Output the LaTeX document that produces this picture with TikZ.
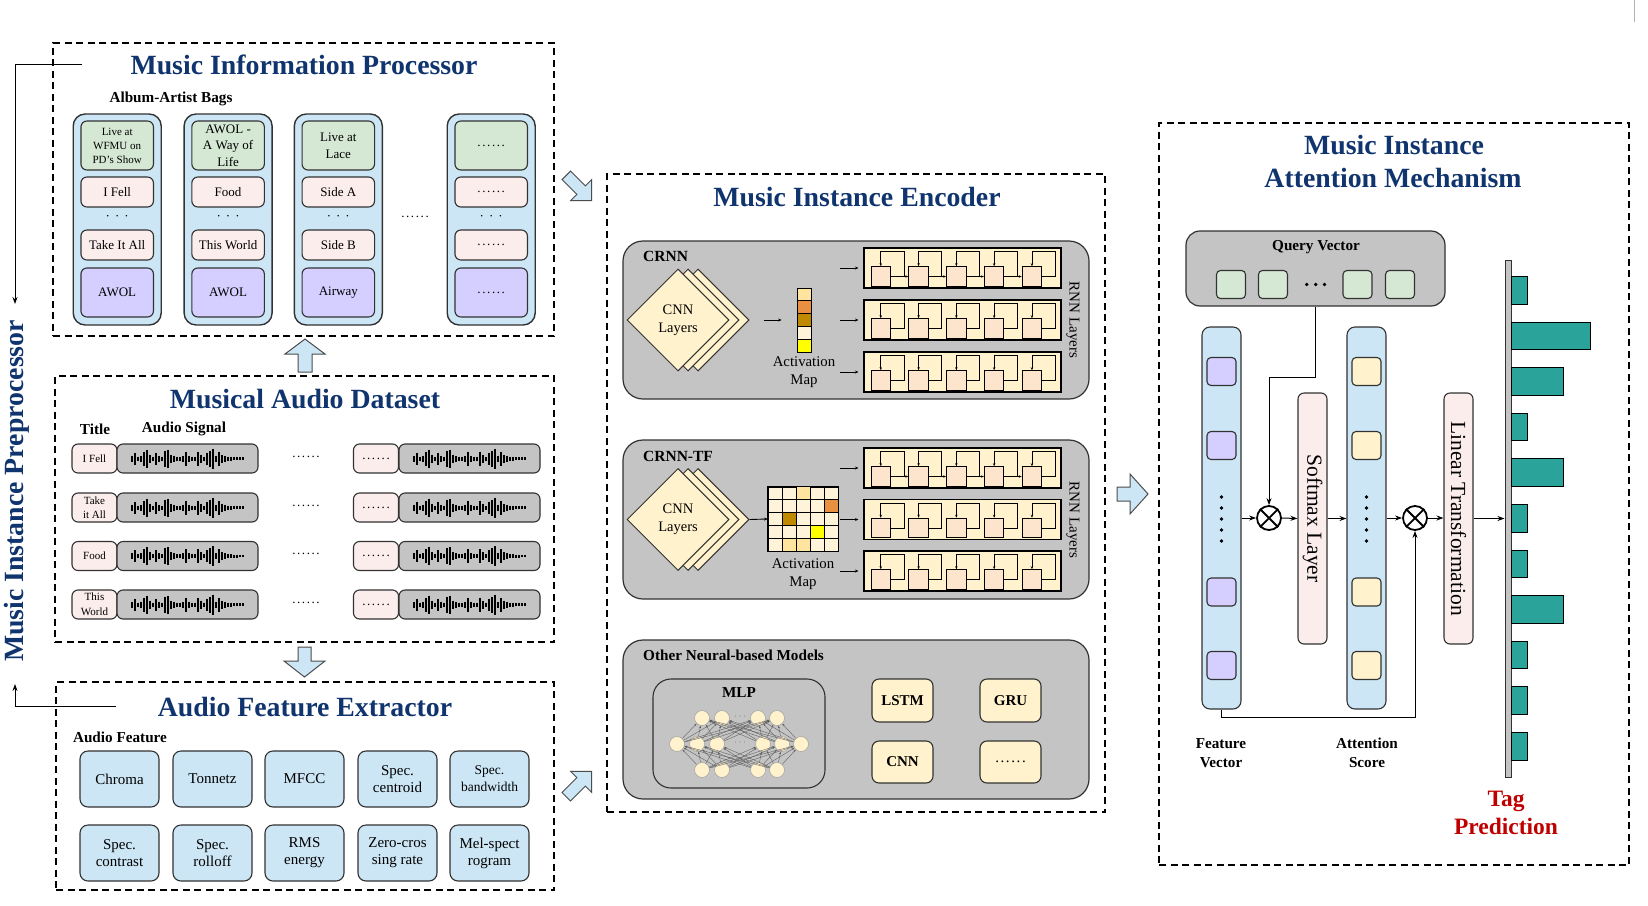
\documentclass[tikz,border=0pt]{standalone}
\usepackage{fontspec}
\setmainfont{Liberation Serif}
\usetikzlibrary{shapes.geometric,arrows.meta,calc}
\definecolor{titleblue}{RGB}{16,52,110}
\definecolor{bdr}{RGB}{50,50,50}
\definecolor{bagblue}{RGB}{204,230,245}
\definecolor{mgreen}{RGB}{213,232,212}
\definecolor{mpink}{RGB}{252,237,237}
\definecolor{mpurple}{RGB}{212,207,255}
\definecolor{mgray}{RGB}{196,196,196}
\definecolor{myellow}{RGB}{255,242,204}
\definecolor{mpeach}{RGB}{253,228,205}
\definecolor{mteal}{RGB}{42,163,155}
\definecolor{tagred}{RGB}{192,0,0}
\definecolor{amA}{RGB}{255,228,160}
\definecolor{amB}{RGB}{232,144,64}
\definecolor{amC}{RGB}{192,138,0}
\definecolor{amD}{RGB}{255,243,217}
\definecolor{amE}{RGB}{255,255,0}
\newcommand\mywave[2]{%
  \foreach \h [count=\i] in {3,6,2,3,7,9,4,2,6,3,2,8,9,4,3,2,2,3,7,3,2,2,7,4,2,6,8,10,3,7,4,3,2,2,1.5,1.5,1.2,1.2}{%
    \draw[line width=1.1pt] ({#1+\i*3},{#2-\h}) -- ({#1+\i*3},{#2+\h});}%
}
\newcommand\mydots{.\kern1.6pt.\kern1.6pt.\kern1.6pt.\kern1.6pt.\kern1.6pt.}
\tikzset{
 dbox/.style={draw=black, line width=1.5pt, dash pattern=on 7pt off 4.5pt, inner sep=0pt},
 ttl/.style={text=titleblue, font=\fontsize{27.8}{32}\selectfont\bfseries, inner sep=0pt, align=center},
 lbl/.style={font=\fontsize{15.2}{19}\selectfont\bfseries, inner sep=0pt, align=center},
 bag/.style={draw=bdr, fill=bagblue, rounded corners=12pt, line width=1.4pt, minimum width=88pt, minimum height=211pt, inner sep=0pt},
 bitem/.style={draw=bdr, rounded corners=6pt, line width=1.1pt, minimum width=72.5pt, align=center, inner sep=0pt, font=\fontsize{13}{16}\selectfont},
 dotsl/.style={inner sep=0pt, font=\fontsize{13}{16}\selectfont},
 tbox/.style={draw=bdr, fill=mpink, rounded corners=6pt, line width=1.1pt, minimum width=45pt, minimum height=29pt, inner sep=0pt, align=center, font=\fontsize{11}{14.5}\selectfont},
 sbox/.style={draw=bdr, fill=mgray, rounded corners=6pt, line width=1.1pt, minimum width=141pt, minimum height=29pt, inner sep=0pt},
 fbox/.style={draw=bdr, fill=bagblue, rounded corners=8pt, line width=1.1pt, minimum width=79pt, minimum height=56pt, inner sep=0pt, align=center, font=\fontsize{15}{17}\selectfont},
 blk/.style={draw=bdr, fill=mgray, rounded corners=20pt, line width=1.2pt, minimum width=466pt, inner sep=0pt},
 diam/.style={diamond, aspect=1, draw=bdr, fill=myellow, line width=1pt, minimum width=102pt, minimum height=102pt, inner sep=0pt, align=center, font=\fontsize{14.5}{18}\selectfont},
 amcell/.style={draw=black, line width=0.8pt, minimum width=14pt, minimum height=12.8pt, inner sep=0pt},
 rnnrow/.style={draw=black, fill=myellow, line width=1.1pt, minimum width=197pt, minimum height=40pt, inner sep=0pt},
 rcell/.style={draw=black, fill=mpeach, line width=1pt, minimum size=19.5pt, inner sep=0pt},
 lp/.style={line width=0.9pt, -{Stealth[length=3pt,width=2.4pt]}},
 sarr/.style={line width=0.9pt, -{Stealth[length=3.5pt,width=3pt]}},
 arr/.style={line width=1pt, -{Stealth[length=7pt,width=5pt]}},
 neuron/.style={circle, fill=myellow, draw=gray!70, line width=0.6pt, minimum size=15pt, inner sep=0pt},
 nnarr/.style={draw=gray!70!black, line width=0.35pt, -{Stealth[length=2.6pt,width=1.8pt]}},
 mbox/.style={draw=bdr, fill=myellow, rounded corners=7pt, line width=1.1pt, minimum width=61pt, minimum height=43pt, inner sep=0pt, font=\fontsize{15}{17}\selectfont\bfseries},
 vcol/.style={draw=bdr, fill=bagblue, rounded corners=8pt, line width=1.1pt, minimum width=39pt, minimum height=382pt, inner sep=0pt},
 vsq/.style={draw=bdr, rounded corners=4pt, line width=1.1pt, minimum width=29pt, minimum height=28pt, inner sep=0pt},
 slayer/.style={draw=bdr, fill=mpink, rounded corners=6pt, line width=1.1pt, minimum width=29pt, minimum height=251pt, inner sep=0pt},
 vtext/.style={rotate=-90, font=\fontsize{21.5}{24}\selectfont, inner sep=0pt},
 otimes/.style={circle, draw=black, line width=1.8pt, minimum size=24pt, inner sep=0pt},
 barrow/.style={fill=bagblue, draw=gray!60!black, line width=1pt},
 tbar/.style={draw=black, fill=mteal, line width=0.8pt},
}
\begin{document}
\begin{tikzpicture}[x=1pt,y=-1pt]
\useasboundingbox[fill=white] (0,0) rectangle (1648,905);
\draw[gray!60, line width=1pt] (1634,0) -- (1634,22);

% ---------------- dashed section boxes
\node[dbox, minimum width=501pt, minimum height=293pt] (mip) at (303.5,189.5) {};
\node[dbox, minimum width=499pt, minimum height=266pt] (mad) at (304.5,509) {};
\node[dbox, minimum width=498pt, minimum height=208pt] (afe) at (305,786) {};
\node[dbox, minimum width=498pt, minimum height=638pt] (enc) at (856,493) {};
\node[dbox, minimum width=470pt, minimum height=742pt] (att) at (1394,494) {};

% ---------------- preprocessor
\node[ttl, rotate=90] (pre) at (17,491) {Music Instance Preprocessor};
\coordinate (ppt1) at (82,64);
\coordinate (ppt2) at (15,304);
\draw[arr] (ppt1) -| (ppt2);
\coordinate (ppb1) at (116,706);
\coordinate (ppb2) at (15,684);
\draw[arr] (ppb1) -| (ppb2);

% ---------------- Music Information Processor
\node[ttl, anchor=base] (mipt) at (304,74) {Music Information Processor};
\node[lbl] (aab) at (171,99) {Album-Artist Bags};
\foreach \n/\x in {1/117.2,2/228.1,3/338.3,4/491.2}{
  \node[bag] (bag\n) at (\x,219.5) {};
  \node[dotsl] (bd\n) at (\x,218) {·\hspace{5pt}·\hspace{5pt}·};
}
\node[bitem, fill=mgreen, minimum height=49pt, font=\fontsize{11}{14}\selectfont] (g1) at (117.2,145.5) {Live at\\WFMU on\\PD's Show};
\node[bitem, fill=mpink, minimum height=30pt] (pa1) at (117.2,192) {I Fell};
\node[bitem, fill=mpink, minimum height=30pt] (pb1) at (117.2,245) {Take It All};
\node[bitem, fill=mpurple, minimum height=49pt] (u1) at (117.2,292.5) {AWOL};
\node[bitem, fill=mgreen, minimum height=49pt, font=\fontsize{13}{16.5}\selectfont] (g2) at (228.1,145.5) {AWOL -\\A Way of\\Life};
\node[bitem, fill=mpink, minimum height=30pt] (pa2) at (228.1,192) {Food};
\node[bitem, fill=mpink, minimum height=30pt] (pb2) at (228.1,245) {This World};
\node[bitem, fill=mpurple, minimum height=49pt] (u2) at (228.1,292.5) {AWOL};
\node[bitem, fill=mgreen, minimum height=49pt, font=\fontsize{13}{17}\selectfont] (g3) at (338.3,145.5) {Live at\\Lace};
\node[bitem, fill=mpink, minimum height=30pt] (pa3) at (338.3,192) {Side A};
\node[bitem, fill=mpink, minimum height=30pt] (pb3) at (338.3,245) {Side B};
\node[bitem, fill=mpurple, minimum height=49pt] (u3) at (338.3,292.5) {Airway};
\node[bitem, fill=mgreen, minimum height=49pt] (g4) at (491.2,145.5) {\mydots};
\node[bitem, fill=mpink, minimum height=30pt] (pa4) at (491.2,192) {\mydots};
\node[bitem, fill=mpink, minimum height=30pt] (pb4) at (491.2,245) {\mydots};
\node[bitem, fill=mpurple, minimum height=49pt] (u4) at (491.2,292.5) {\mydots};
\node[dotsl] (bagdots) at (415,217) {\mydots};

% ---------------- block arrows
\draw[barrow] (298,372) -- (298,354) -- (285,354) -- (305,339) -- (325,354) -- (312,354) -- (312,372) -- cycle;
\draw[barrow] (298,647) -- (298,661) -- (284,661) -- (304.5,677) -- (325,661) -- (311,661) -- (311,647) -- cycle;
\draw[barrow] (562.03,179.51) -- (576.88,194.36) -- (570.51,200.73) -- (591.73,200.73) -- (591.73,179.51) -- (585.36,185.88) -- (570.51,171.03) -- cycle;
\draw[barrow] (570.51,800.97) -- (585.36,786.12) -- (591.73,792.49) -- (591.73,771.27) -- (570.51,771.27) -- (576.88,777.64) -- (562.03,792.49) -- cycle;
\draw[barrow] (1117,487) -- (1130,487) -- (1130,474) -- (1148,494) -- (1130,514) -- (1130,501) -- (1117,501) -- cycle;

% ---------------- Musical Audio Dataset
\node[ttl, anchor=base] (madt) at (305,408) {Musical Audio Dataset};
\node[lbl] (ttlab) at (95,429) {Title};
\node[lbl] (aslab) at (184,429) {Audio Signal};
\node[tbox] (t1) at (94.5,458.5) {I Fell};
\node[tbox] (t2) at (94.5,507.5) {Take\\it All};
\node[tbox] (t3) at (94.5,556) {Food};
\node[tbox] (t4) at (94.5,604.5) {This\\World};
\foreach \r/\y in {1/458.5,2/507.5,3/556,4/604.5}{
  \node[sbox] (s\r) at (187.5,\y) {};
  \mywave{129}{\y}
  \node[dotsl] (dd\r) at (306,\y-2) {\mydots};
  \node[tbox, font=\fontsize{13}{15}\selectfont] (tr\r) at (376,\y) {\mydots};
  \node[sbox] (sr\r) at (469.5,\y) {};
  \mywave{411}{\y}
}

% ---------------- Audio Feature Extractor
\node[ttl, anchor=base] (afet) at (305,716) {Audio Feature Extractor};
\node[lbl] (aflab) at (120,737) {Audio Feature};
\node[fbox] (f1) at (119.5,779) {Chroma};
\node[fbox] (f2) at (212.5,779) {Tonnetz};
\node[fbox] (f3) at (304.5,779) {MFCC};
\node[fbox] (f4) at (397.5,779) {Spec.\\centroid};
\node[fbox, font=\fontsize{13.5}{17}\selectfont] (f5) at (489.5,779) {Spec.\\bandwidth};
\node[fbox] (f6) at (119.5,853) {Spec.\\contrast};
\node[fbox] (f7) at (212.5,853) {Spec.\\rolloff};
\node[fbox] (f8) at (304.5,853) {RMS\\energy};
\node[fbox] (f9) at (397.5,853) {Zero-cros\\sing rate};
\node[fbox] (f10) at (489.5,853) {Mel-spect\\rogram};

% ---------------- Music Instance Encoder
\node[ttl, anchor=base] (enct) at (857,206.5) {Music Instance Encoder};
\node[blk, minimum height=158pt] (crnn) at (856,320) {};
\node[blk, minimum height=159pt] (crnntf) at (856,519.5) {};
\node[blk, minimum height=159pt] (other) at (856,719.5) {};
\node[lbl, font=\fontsize{15.5}{18}\selectfont\bfseries, anchor=west] (crnnl) at (643,256) {CRNN};
\node[lbl, font=\fontsize{15.5}{18}\selectfont\bfseries, anchor=west] (crnntfl) at (643,456) {CRNN-TF};
\node[lbl, anchor=west] (otherl) at (643,655) {Other Neural-based Models};

% diamonds
\node[diam] (cnn13) at (698,320) {};
\node[diam] (cnn12) at (688,320) {};
\node[diam] (cnn11) at (678,320) {CNN\\Layers};
\node[diam] (cnn23) at (698,519.5) {};
\node[diam] (cnn22) at (688,519.5) {};
\node[diam] (cnn21) at (678,519.5) {CNN\\Layers};

% activation map CRNN
\foreach \c [count=\i] in {amA,amB,amC,amD,amE}
  \node[amcell, fill=\c] (ma\i) at (804,{294.4+(\i-1)*12.8}) {};
\draw[sarr, shorten <=14pt, shorten >=15pt] (cnn13.east) -- (ma3.west);
\node[font=\fontsize{14.8}{17.5}\selectfont, align=center, inner sep=0pt] (aml1) at (804,372) {Activation\\Map};

% activation map CRNN-TF
\node[draw=black, fill=amD, line width=0.8pt, minimum width=70pt, minimum height=64pt, inner sep=0pt] (amg) at (803,519) {};
\foreach \rr/\cc/\col in {0/2/amA,1/4/amB,2/1/amC,3/3/amE,4/1/amA,4/2/amA}
  \fill[\col] ({768+14*\cc},{487+12.8*\rr}) rectangle ++(14,12.8);
\foreach \i in {1,...,4}{
  \draw[line width=0.8pt] ({768+14*\i},487) -- ({768+14*\i},551);
  \draw[line width=0.8pt] (768,{487+12.8*\i}) -- (838,{487+12.8*\i});
}
\draw[line width=0.8pt] (amg.north west) rectangle (amg.south east);
\draw[sarr] (cnn23.east) -- (amg.west);
\node[font=\fontsize{14.8}{17.5}\selectfont, align=center, inner sep=0pt] (aml2) at (803,574) {Activation\\Map};

% RNN rows
\foreach \b/\ta/\tb/\tc in {1/248/300/352,2/448/499.5/551}{
  \foreach \r/\T in {1/\ta,2/\tb,3/\tc}{
    \node[rnnrow] (row\b\r) at (962.5,{\T+20}) {};
    \draw[sarr] ([xshift=-23pt]row\b\r.west) -- ([xshift=-5pt]row\b\r.west);
    \foreach \k in {0,...,4}{
      \node[rcell] (cell\b\r\k) at ({880.75+37.8*\k},{\T+28.5}) {};
      \draw[lp] (cell\b\r\k.east) -- ++(13,0) -- ++(0,-24.75) -| (cell\b\r\k.north);
    }
  }
  \foreach \k/\kk in {0/1,1/2,2/3,3/4}
    \draw[lp] (cell\b1\k.east) -- (cell\b1\kk.west);
}
\node[rotate=-90, font=\fontsize{15}{17}\selectfont, inner sep=0pt] (rl1) at (1073,320) {RNN Layers};
\node[rotate=-90, font=\fontsize{15}{17}\selectfont, inner sep=0pt] (rl2) at (1073,520) {RNN Layers};

% other models
\node[draw=bdr, fill=mgray, rounded corners=18pt, line width=1.1pt, minimum width=172pt, minimum height=109pt, inner sep=0pt] (mlp) at (739,733.5) {};
\node[lbl] (mlpl) at (739,693) {MLP};
\foreach \x [count=\i] in {702,722,758,777}{
  \node[neuron] (na\i) at (\x,718) {};
  \node[neuron] (nc\i) at (\x,770) {};
}
\foreach \x [count=\i] in {677,697,717,763,782,801}
  \node[neuron] (nb\i) at (\x,744) {};
\foreach \a in {1,...,6}{
  \foreach \c in {1,...,4}{
    \draw[nnarr] (nb\a) -- (na\c);
    \draw[nnarr] (nc\c) -- (nb\a);
  }
}
\node[text=gray, font=\fontsize{9}{10}\selectfont, inner sep=0pt] (nd1) at (740,718) {·\,·\,·};
\node[text=gray, font=\fontsize{9}{10}\selectfont, inner sep=0pt] (nd2) at (740,744) {·\,·\,·};
\node[mbox] (lstm) at (902.5,700.5) {LSTM};
\node[mbox] (gru) at (1010.5,700.5) {GRU};
\node[mbox, minimum height=42pt] (cnnm) at (902.5,762) {CNN};
\node[mbox, minimum height=42pt, font=\fontsize{15}{17}\selectfont] (moth) at (1010.5,762) {\mydots};

% ---------------- Attention mechanism
\node[ttl, anchor=base] (attt1) at (1394,154) {Music Instance};
\node[ttl, anchor=base] (attt2) at (1393,187) {Attention Mechanism};
\node[draw=bdr, fill=mgray, rounded corners=14pt, line width=1.2pt, minimum width=259pt, minimum height=75pt, inner sep=0pt] (qv) at (1315.5,268.5) {};
\node[lbl] (qvl) at (1316,247) {Query Vector};
\foreach \x [count=\i] in {1231,1273,1357.5,1400}
  \node[vsq, fill=mgreen] (qs\i) at (\x,284.5) {};
\foreach \x in {1306.7,1315.7,1324.5}
  \fill (\x,284.5) circle (1.8pt);

\node[vcol] (fv) at (1221.5,518) {};
\node[vcol] (as) at (1366.5,518) {};
\foreach \i/\y in {1/371.5,2/445.5,3/592,4/665.5}{
  \node[vsq, fill=mpurple] (fq\i) at (1221.5,\y) {};
  \node[vsq, fill=myellow] (aq\i) at (1366.5,\y) {};
}
\foreach \y in {497,508,519,530,541}{
  \fill (1221.5,\y) circle (1.9pt);
  \fill (1366.5,\y) circle (1.9pt);
}
\node[slayer] (sm) at (1312.5,518.5) {};
\node[vtext] (sml) at (1312.5,518.5) {Softmax Layer};
\node[slayer] (lt) at (1458.5,518.5) {};
\node[vtext] (ltl) at (1458.5,518.5) {Linear Transformation};
\node[otimes] (ox1) at (1269,518) {};
\draw[line width=1.8pt] (ox1.45) -- (ox1.225) (ox1.135) -- (ox1.-45);
\node[otimes] (ox2) at (1415,518) {};
\draw[line width=1.8pt] (ox2.45) -- (ox2.225) (ox2.135) -- (ox2.-45);

\node[draw=bdr, fill=mgray, line width=1pt, minimum width=6pt, minimum height=517pt, inner sep=0pt] (axis) at (1508,519.2) {};
\foreach \y/\xe in {276.4/1527,322/1590,367.6/1563,413.2/1527,458.8/1563,504.4/1527,550/1527,595.6/1563,641.2/1527,686.8/1527,732.4/1527}
  \draw[tbar] (1511,\y) rectangle (\xe,\y+27.5);

\draw[arr] (qv.south) -- ++(0,71) -| (ox1.north);
\draw[arr] (fv.east) -- (ox1.west);
\draw[arr] (ox1.east) -- (sm.west);
\draw[arr] (sm.east) -- (sm.east -| as.west);
\draw[arr] (as.east) -- (ox2.west);
\draw[arr] (ox2.east) -- (ox2.east -| lt.west);
\draw[arr] (lt.east) -- (lt.east -| axis.west);
\draw[arr] (fv.south) -- ++(0,8) -| (ox2.south);

\node[lbl] (fvl) at (1221,753) {Feature\\Vector};
\node[lbl] (asl) at (1367,753) {Attention\\Score};
\node[font=\fontsize{23.5}{28}\selectfont\bfseries, text=tagred, align=center, inner sep=0pt] (tag) at (1506,813) {Tag\\Prediction};
\end{tikzpicture}
\end{document}
